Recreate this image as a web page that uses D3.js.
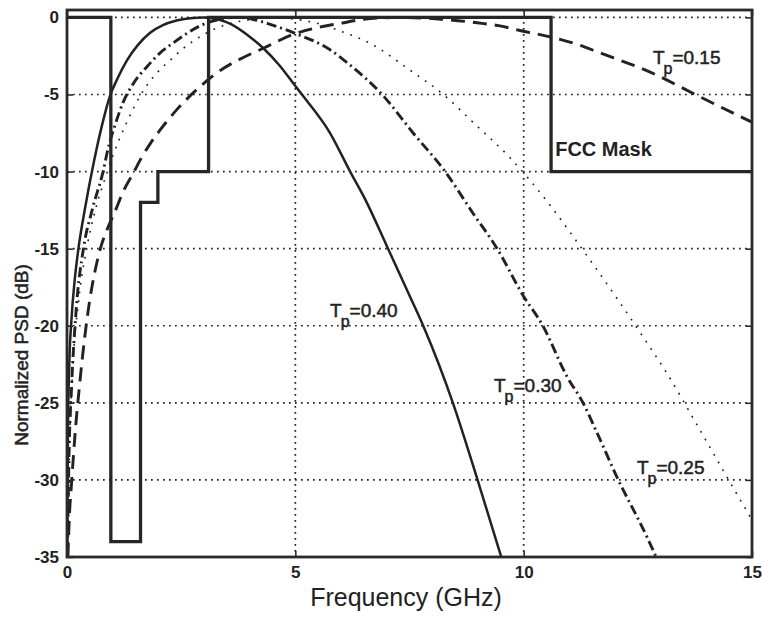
<!DOCTYPE html>
<html>
<head>
<meta charset="utf-8">
<script src="https://cdn.jsdelivr.net/npm/d3@7"></script>
<style>
  body { margin: 0; background: #fff; }
  svg { display: block; }
  text { font-family: "Liberation Sans", Arial, Helvetica, sans-serif; fill: #222; }
  .heavy { stroke: #222; stroke-width: 0.5px; }
</style>
</head>
<body>
<svg id="chart" width="762" height="617"></svg>
<script>
// Axis ticks
const freqTicks = [0, 5, 10, 15];
const psdTicks = [0, -5, -10, -15, -20, -25, -30, -35];

// FCC indoor emission mask, normalised (step corners in GHz / dB)
const maskFreq  = [0, 0.96, 0.96, 1.61, 1.61, 1.99, 1.99, 3.1, 3.1, 10.6, 10.6, 15];
const maskLevel = [0, 0,   -34,  -34,  -12,  -12,  -10,  -10, 0,   0,    -10,  -10];

// Normalised PSD of the pulse for each pulse width Tp, [GHz, dB]
const psdTp040 = [[0.005,-35],[0.02,-27],[0.05,-22.5],[0.1,-19.5],[0.17,-17],[0.25,-15],[0.4,-12.3],
  [0.58,-9.5],[0.75,-7.2],[0.94,-5.1],[1.1,-4],[1.31,-2.8],[1.55,-1.8],[1.82,-1.0],[2.1,-0.5],
  [2.4,-0.2],[2.7,-0.05],[3.0,0],[3.3,-0.12],[3.6,-0.45],[4.0,-1.25],[4.3,-2.0],[4.65,-3.1],
  [5.0,-4.45],[5.17,-5.1],[5.76,-7.5],[6.2,-10],[6.53,-11.8],[7.03,-15],[7.51,-18.1],[7.8,-20],
  [8.45,-25],[8.97,-29.8],[9.51,-35]];
const psdTp030 = [[0.01,-35],[0.04,-29],[0.1,-24],[0.2,-19],[0.36,-15],[0.55,-12.5],[0.79,-10],
  [0.9,-8.5],[1.05,-7.0],[1.23,-5.5],[1.45,-4.3],[1.75,-3.2],[2.04,-2.3],[2.33,-1.65],[2.62,-1.05],
  [2.91,-0.55],[3.3,-0.15],[3.7,0],[4.1,-0.15],[4.45,-0.45],[5.0,-1.04],[5.76,-2.1],[6.2,-3.1],
  [6.9,-5],[7.58,-7.5],[8.28,-10],[8.89,-12.7],[9.42,-15],[9.98,-18],[10.42,-20],[10.95,-23.3],
  [11.3,-25],[11.6,-26.9],[12.04,-29.8],[12.7,-33.7],[12.9,-35]];
const psdTp025 = [[0.01,-35],[0.05,-28.5],[0.12,-23],[0.25,-18.5],[0.43,-15],[0.62,-12.5],
  [0.85,-10.3],[1.0,-9.0],[1.16,-7.8],[1.31,-6.8],[1.6,-5.1],[1.75,-4.4],[2.0,-3.5],[2.25,-2.8],
  [2.51,-2.1],[3.0,-1.1],[3.5,-0.45],[4.0,-0.15],[4.5,0],[5.0,-0.12],[5.5,-0.4],[6.0,-0.9],
  [6.63,-1.67],[7.51,-3.42],[8.28,-5.1],[8.89,-6.8],[9.7,-9.1],[10.53,-12],[11.19,-14.65],
  [12.06,-18.3],[12.61,-20.7],[13.14,-23.1],[13.79,-26.4],[14.45,-29.8],[15,-32.6]];
const psdTp015 = [[0.02,-35],[0.05,-32.5],[0.1,-30.2],[0.18,-26.9],[0.28,-23.7],[0.39,-20.7],
  [0.5,-18.3],[0.61,-16.5],[0.75,-14.8],[0.9,-13.6],[1.05,-12.6],[1.23,-11.3],[1.47,-10],
  [1.63,-9.1],[1.82,-8.2],[2.04,-7.3],[2.4,-6.0],[2.91,-4.5],[3.28,-3.6],[3.86,-2.6],[4.23,-2.1],
  [5.0,-1.05],[5.5,-0.65],[5.98,-0.39],[6.5,-0.12],[7.3,0],[8.2,-0.12],[8.98,-0.35],[9.48,-0.55],
  [9.92,-0.85],[10.58,-1.26],[11.17,-1.75],[11.67,-2.3],[12.77,-3.55],[13.86,-5.15],[15,-6.8]];

const pulseWidths = ["0.40", "0.30", "0.25", "0.15"];

const svg = d3.select("#chart");
const plot = { left: 67, right: 752, top: 10, bottom: 557 };

const x = d3.scaleLinear().domain([0, 15]).range([plot.left, plot.right]);
const y = d3.scaleLinear().domain([-35, 0.48]).range([plot.bottom, plot.top]);

svg.append("defs").append("clipPath").attr("id", "plot-clip")
  .append("rect")
  .attr("x", plot.left).attr("y", plot.top)
  .attr("width", plot.right - plot.left).attr("height", plot.bottom - plot.top);

const ink = "#222";

// dotted grid
const grid = svg.append("g").attr("stroke", ink).attr("stroke-width", 1.7)
  .attr("stroke-dasharray", "1.7,4.3").attr("fill", "none");
grid.selectAll("line.h").data(psdTicks.filter(d => d > -35)).join("line")
  .attr("class", "h")
  .attr("x1", plot.left).attr("x2", plot.right)
  .attr("y1", d => y(d)).attr("y2", d => y(d));
grid.selectAll("line.v").data(freqTicks.filter(d => d > 0 && d < 15)).join("line")
  .attr("class", "v")
  .attr("y1", plot.top).attr("y2", plot.bottom)
  .attr("x1", d => x(d)).attr("x2", d => x(d));

// PSD curves
const line = d3.line().x(d => x(d[0])).y(d => y(d[1])).curve(d3.curveMonotoneX);
const curves = svg.append("g").attr("clip-path", "url(#plot-clip)").attr("fill", "none")
  .attr("stroke", ink).attr("stroke-linejoin", "round");
const curveSeries = [
  { data: psdTp040, width: 2.5, dash: null },
  { data: psdTp030, width: 2.9, dash: "10,4,2,4" },
  { data: psdTp025, width: 1.6, dash: "1.8,7" },
  { data: psdTp015, width: 2.9, dash: "14,8" }
];
curves.selectAll("path").data(curveSeries).join("path")
  .attr("d", d => line(d.data))
  .attr("stroke-width", d => d.width)
  .attr("stroke-dasharray", d => d.dash);

// FCC mask
const maskPoints = maskFreq.map((f, i) => [f, maskLevel[i]]);
svg.append("path")
  .attr("clip-path", "url(#plot-clip)")
  .attr("d", d3.line().x(d => x(d[0])).y(d => y(d[1]))(maskPoints))
  .attr("fill", "none").attr("stroke", "#262626").attr("stroke-width", 3.3)
  .attr("stroke-linejoin", "miter");

// axes with inward ticks
const fmt = d => String(d);
const axisStyle = g => {
  g.select(".domain").remove();
  g.selectAll(".tick line").attr("stroke", ink).attr("stroke-width", 1.5);
  g.selectAll(".tick text").attr("fill", ink).style("font-size", "17px").style("font-weight", "bold");
};
svg.append("g").attr("transform", `translate(${plot.left},0)`)
  .call(d3.axisLeft(y).tickValues(psdTicks).tickFormat(fmt).tickSize(-6).tickPadding(8))
  .call(axisStyle);
svg.append("g").attr("transform", `translate(${plot.right},0)`)
  .call(d3.axisRight(y).tickValues(psdTicks).tickFormat("").tickSize(-6))
  .call(axisStyle);
svg.append("g").attr("transform", `translate(0,${plot.bottom})`)
  .call(d3.axisBottom(x).tickValues(freqTicks).tickFormat(fmt).tickSize(-6).tickPadding(9))
  .call(axisStyle);
svg.append("g").attr("transform", `translate(0,${plot.top})`)
  .call(d3.axisTop(x).tickValues(freqTicks).tickFormat("").tickSize(-6))
  .call(axisStyle);

// frame
svg.append("rect")
  .attr("x", plot.left).attr("y", plot.top)
  .attr("width", plot.right - plot.left).attr("height", plot.bottom - plot.top)
  .attr("fill", "none").attr("stroke", "#2a2a2a").attr("stroke-width", 2.8);

// axis titles
svg.append("text")
  .attr("x", 406).attr("y", 606).attr("text-anchor", "middle")
  .style("font-size", "25px").text("Frequency (GHz)");
svg.append("text").attr("class", "heavy")
  .attr("transform", "translate(28,355) rotate(-90)").attr("text-anchor", "middle")
  .style("font-size", "19px").text("Normalized PSD (dB)");

// curve annotations
const labelAnchors = [[5.76, -19.42], [9.35, -24.28], [12.48, -29.6], [12.83, -3.03]];
pulseWidths.forEach((tp, i) => {
  const t = svg.append("text").attr("class", "heavy")
    .attr("x", x(labelAnchors[i][0])).attr("y", y(labelAnchors[i][1]))
    .style("font-size", "19px");
  t.append("tspan").text("T");
  t.append("tspan").attr("dx", -1).attr("dy", 10).style("font-size", "16px").text("p");
  t.append("tspan").attr("dy", -10).text("=" + tp);
});

svg.append("text")
  .attr("x", x(10.69)).attr("y", y(-8.99))
  .style("font-size", "20px").style("font-weight", "bold").text("FCC Mask");
</script>
</body>
</html>
